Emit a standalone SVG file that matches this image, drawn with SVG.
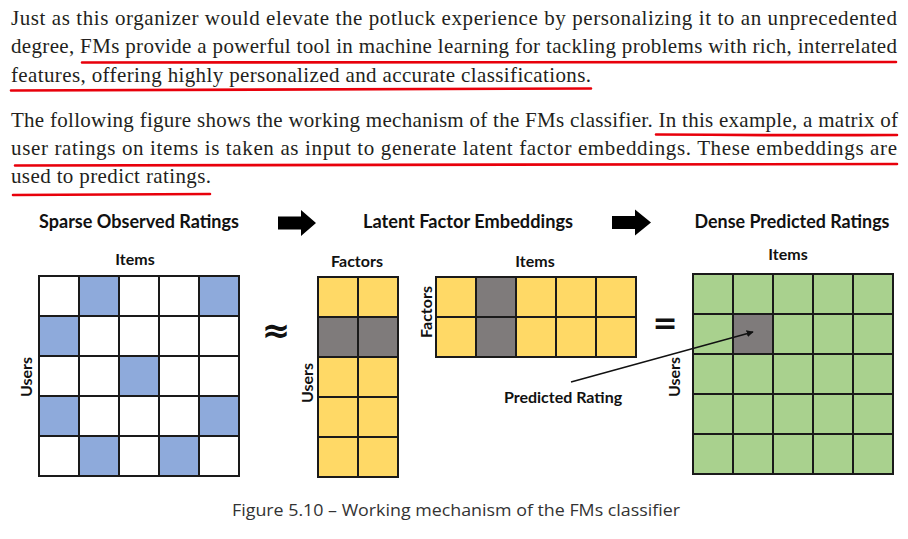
<svg xmlns="http://www.w3.org/2000/svg" width="908" height="539" viewBox="0 0 908 539">
<style>
  .body { font-family: "Liberation Serif", "Times New Roman", serif; font-size: 21px; fill: #231f20; }
  .ul { stroke: #e8000b; stroke-width: 2.6; fill: none; stroke-linecap: round; }
  .title { font-family: Lato, "Liberation Sans", Arial, sans-serif; font-weight: bold; font-size: 18px; fill: #111; text-anchor: middle; }
  .lbl { font-family: Lato, "Liberation Sans", Arial, sans-serif; font-weight: bold; font-size: 16px; fill: #111; text-anchor: middle; }
  .grid { stroke: #1a1a1a; stroke-width: 2; fill: none; }
  .white { fill: #ffffff; }
  .blue { fill: #8eaadb; }
  .yellow { fill: #ffd966; }
  .green { fill: #a9d18e; }
  .gray { fill: #7f7b7b; }
  .blk { fill: #000; }
  .ptr { stroke: #111; stroke-width: 1.4; fill: none; }
  .cap { font-family: "Open Sans", "Liberation Sans", Arial, sans-serif; font-size: 16px; fill: #333; text-anchor: middle; }
  .sym { font-family: "DejaVu Sans", sans-serif; font-weight: bold; fill: #111; text-anchor: middle; }
</style>
<defs>
  <marker id="ah" viewBox="0 0 10 10" refX="9" refY="5" markerWidth="7" markerHeight="7" orient="auto" markerUnits="userSpaceOnUse">
    <path d="M0,0 L10,5 L0,10 z" fill="#111"/>
  </marker>
</defs>
<rect width="908" height="539" fill="#ffffff"/>

<g id="paragraph1">
  <text class="body" x="11" y="25" textLength="886" lengthAdjust="spacing">Just as this organizer would elevate the potluck experience by personalizing it to an unprecedented</text>
  <text class="body" x="11" y="53" textLength="886" lengthAdjust="spacing">degree, FMs provide a powerful tool in machine learning for tackling problems with rich, interrelated</text>
  <text class="body" x="11" y="82" textLength="580" lengthAdjust="spacing">features, offering highly personalized and accurate classifications.</text>
  <path class="ul" d="M82,62.5 Q490,60.5 896,62"/>
  <path class="ul" d="M11,90.5 Q300,89.5 591,88.5"/>
</g>

<g id="paragraph2">
  <text class="body" x="11" y="127" textLength="887" lengthAdjust="spacing">The following figure shows the working mechanism of the FMs classifier. In this example, a matrix of</text>
  <text class="body" x="11" y="155" textLength="886" lengthAdjust="spacing">user ratings on items is taken as input to generate latent factor embeddings. These embeddings are</text>
  <text class="body" x="11" y="183" textLength="200" lengthAdjust="spacing">used to predict ratings.</text>
  <path class="ul" d="M656,134.5 Q780,135.5 897,135"/>
  <path class="ul" d="M15,165.5 Q450,164.5 897,164"/>
  <path class="ul" d="M13,195 L210,194"/>
</g>

<g id="title-sparse">
  <text class="title" x="139" y="228" textLength="200" lengthAdjust="spacingAndGlyphs">Sparse Observed Ratings</text>
</g>
<g id="title-latent">
  <text class="title" x="468" y="228" textLength="210" lengthAdjust="spacingAndGlyphs">Latent Factor Embeddings</text>
</g>
<g id="title-dense">
  <text class="title" x="792" y="228" textLength="195" lengthAdjust="spacingAndGlyphs">Dense Predicted Ratings</text>
</g>

<g id="sparse-matrix">
  <text class="lbl" x="135" y="265">Items</text>
  <text class="lbl" transform="translate(32,377) rotate(-90)">Users</text>
  <rect class="white" x="39" y="276" width="200" height="200"/>
  <rect class="blue" x="79" y="276" width="40" height="40"/>
  <rect class="blue" x="199" y="276" width="40" height="40"/>
  <rect class="blue" x="39" y="316" width="40" height="40"/>
  <rect class="blue" x="119" y="356" width="40" height="40"/>
  <rect class="blue" x="39" y="396" width="40" height="40"/>
  <rect class="blue" x="199" y="396" width="40" height="40"/>
  <rect class="blue" x="79" y="436" width="40" height="40"/>
  <rect class="blue" x="159" y="436" width="40" height="40"/>
  <rect class="grid" x="39" y="276" width="200" height="200"/>
  <path class="grid" d="M79,276V476M119,276V476M159,276V476M199,276V476M39,316H239M39,356H239M39,396H239M39,436H239"/>
</g>

<g id="approx-sign">
  <text class="sym" x="276" y="342" font-size="34">≈</text>
</g>

<g id="user-factor-matrix">
  <text class="lbl" x="357" y="267">Factors</text>
  <text class="lbl" transform="translate(313,383) rotate(-90)">Users</text>
  <rect class="yellow" x="318" y="277" width="80" height="200"/>
  <rect class="gray" x="318" y="317" width="80" height="40"/>
  <rect class="grid" x="318" y="277" width="80" height="200"/>
  <path class="grid" d="M358,277V477M318,317H398M318,357H398M318,397H398M318,437H398"/>
</g>

<g id="factor-item-matrix">
  <text class="lbl" x="535" y="267">Items</text>
  <text class="lbl" transform="translate(432,312) rotate(-90)">Factors</text>
  <rect class="yellow" x="436" y="277" width="200" height="80"/>
  <rect class="gray" x="476" y="277" width="40" height="80"/>
  <rect class="grid" x="436" y="277" width="200" height="80"/>
  <path class="grid" d="M476,277V357M516,277V357M556,277V357M596,277V357M436,317H636"/>
</g>

<g id="predicted-rating-label">
  <text class="lbl" x="563" y="403">Predicted Rating</text>
</g>

<g id="equals-sign">
  <text class="sym" x="665" y="333" font-size="30">=</text>
</g>

<g id="dense-matrix">
  <text class="lbl" x="788" y="260">Items</text>
  <text class="lbl" transform="translate(680,377) rotate(-90)">Users</text>
  <rect class="green" x="693" y="274" width="200" height="200"/>
  <rect class="gray" x="733" y="314" width="40" height="40"/>
  <rect class="grid" x="693" y="274" width="200" height="200"/>
  <path class="grid" d="M733,274V474M773,274V474M813,274V474M853,274V474M693,314H893M693,354H893M693,394H893M693,434H893"/>
</g>

<g id="connectors">
  <polygon class="blk" points="278,216.5 301,216.5 301,210 316,223 301,236 301,229.5 278,229.5"/>
  <polygon class="blk" points="612,216 635,216 635,209.5 651,222.5 635,235.5 635,229 612,229"/>
  <line class="ptr" x1="571" y1="382" x2="753" y2="332" marker-end="url(#ah)"/>
</g>

<g id="caption">
  <text class="cap" x="456" y="516" textLength="448" lengthAdjust="spacingAndGlyphs">Figure 5.10 – Working mechanism of the FMs classifier</text>
</g>
</svg>
